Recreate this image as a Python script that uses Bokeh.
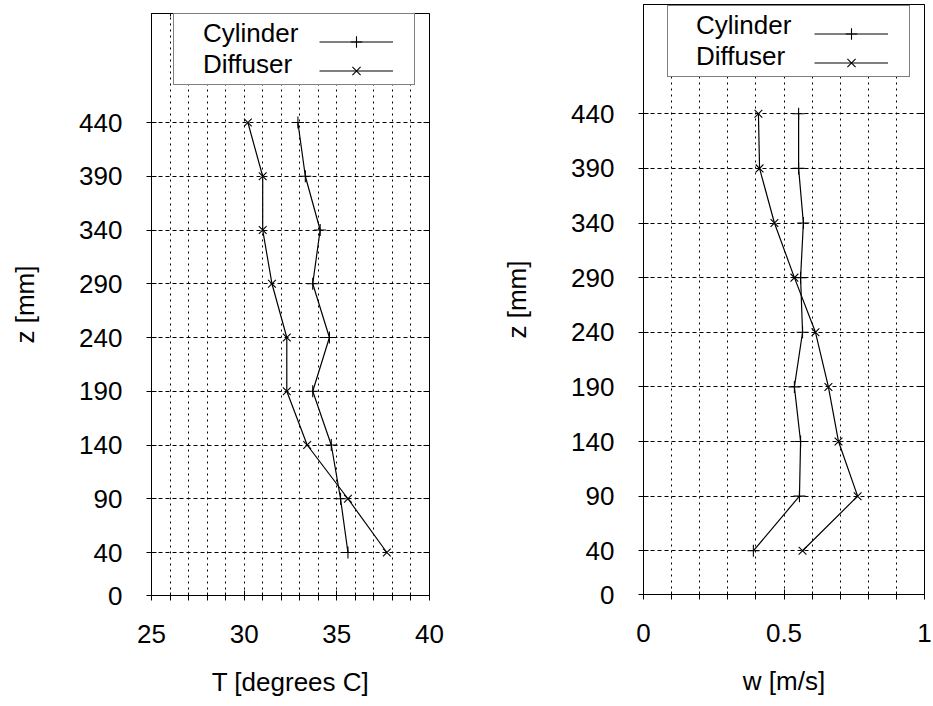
from bokeh.plotting import figure
from bokeh.layouts import row, column
from bokeh.models import FixedTicker, LinearAxis, Legend, LegendItem, Range1d
from bokeh.embed import file_html
from bokeh.resources import INLINE

# ---- data ----
z = [40, 90, 140, 190, 240, 290, 340, 390, 440]
T_cylinder = [35.6, 35.2, 34.7, 33.7, 34.6, 33.7, 34.1, 33.3, 32.9]
T_diffuser = [37.7, 35.6, 33.4, 32.3, 32.3, 31.5, 31.0, 31.0, 30.2]
w_cylinder = [0.391, 0.555, 0.559, 0.537, 0.566, 0.559, 0.569, 0.552, 0.552]
w_diffuser = [0.566, 0.762, 0.694, 0.658, 0.612, 0.537, 0.466, 0.413, 0.409]

series_names = ["Cylinder", "Diffuser"]
z_ticks = [0, 40, 90, 140, 190, 240, 290, 340, 390, 440]
z_grid = [40, 90, 140, 190, 240, 290, 340, 390, 440]
T_ticks = [25, 30, 35, 40]
T_minor = [26, 27, 28, 29, 31, 32, 33, 34, 36, 37, 38, 39]
T_grid = [26, 27, 28, 29, 30, 31, 32, 33, 34, 35, 36, 37, 38, 39]
w_ticks = [0, 0.5, 1]
w_tick_labels = {0: "0", 0.5: "0.5", 1: "1"}
w_minor = [0.1, 0.2, 0.3, 0.4, 0.6, 0.7, 0.8, 0.9]
w_grid = [0.1, 0.2, 0.3, 0.4, 0.5, 0.6, 0.7, 0.8, 0.9]

FONT = "Liberation Sans"
FS = "26px"


def panel(x_cyl, x_dif, x_start, x_end, x_ticks, x_minor, x_grid, x_label,
          y_end, width, bl, br, bt, bb, box_x, box_y, box_w, text_off, glyph_off,
          overrides=None):
    p = figure(width=width, height=706,
               x_range=Range1d(x_start, x_end), y_range=Range1d(0, y_end),
               output_backend="svg", toolbar_location=None,
               min_border_left=bl, min_border_right=br,
               min_border_top=bt, min_border_bottom=bb,
               background_fill_color="white", border_fill_color="white")
    p.outline_line_color = "black"
    p.outline_line_width = 1

    p.xaxis.ticker = FixedTicker(ticks=x_ticks, minor_ticks=x_minor)
    p.yaxis.ticker = FixedTicker(ticks=z_ticks, minor_ticks=[])
    if overrides:
        p.xaxis.major_label_overrides = overrides
    p.xaxis.axis_label = x_label
    p.yaxis.axis_label = "z [mm]"
    for ax in (p.xaxis[0], p.yaxis[0]):
        ax.axis_line_color = "black"
        ax.major_tick_line_color = "black"
        ax.minor_tick_line_color = "black"
        ax.major_tick_in = 5
        ax.major_tick_out = 5
        ax.minor_tick_in = 3
        ax.minor_tick_out = 5
        ax.major_label_text_font = FONT
        ax.major_label_text_font_size = FS
        ax.major_label_text_color = "black"
        ax.axis_label_text_font = FONT
        ax.axis_label_text_font_size = FS
        ax.axis_label_text_font_style = "normal"
        ax.axis_label_text_color = "black"
    p.xaxis.major_label_standoff = 24
    p.xaxis.axis_label_standoff = 21
    p.yaxis.major_label_standoff = 24
    p.yaxis.axis_label_standoff = 36

    top = LinearAxis(ticker=FixedTicker(ticks=x_ticks, minor_ticks=x_minor),
                     major_label_text_font_size="1px",
                     major_label_text_color=None, major_label_standoff=0,
                     major_tick_in=6, major_tick_out=0,
                     minor_tick_in=3, minor_tick_out=0,
                     axis_line_color=None)
    p.add_layout(top, "above")
    right = LinearAxis(ticker=FixedTicker(ticks=z_ticks, minor_ticks=[]),
                       major_label_text_font_size="1px",
                       major_label_text_color=None, major_label_standoff=0,
                       major_tick_in=6, major_tick_out=0,
                       minor_tick_in=0, minor_tick_out=0,
                       axis_line_color=None)
    p.add_layout(right, "right")

    p.xgrid.ticker = FixedTicker(ticks=x_grid)
    p.xgrid.grid_line_color = "black"
    p.xgrid.grid_line_dash = "2 4"
    p.xgrid.grid_line_width = 1
    p.ygrid.ticker = FixedTicker(ticks=z_grid)
    p.ygrid.grid_line_color = "black"
    p.ygrid.grid_line_dash = "4 3"
    p.ygrid.grid_line_width = 1

    l1 = p.line(x_cyl, z, line_color="black", line_width=1.2)
    s1 = p.scatter(x_cyl, z, marker="cross", size=12, line_color="black", line_width=1.1)
    l2 = p.line(x_dif, z, line_color="black", line_width=1.2)
    s2 = p.scatter(x_dif, z, marker="x", size=11, line_color="black", line_width=1.1)

    pad = 4
    # key box with the texts (gnuplot style: text on the left)
    key_text = Legend(items=[LegendItem(label=series_names[0], renderers=[l1, s1]),
                             LegendItem(label=series_names[1], renderers=[l2, s2])],
                      location=(box_x, box_y),
                      label_text_font=FONT, label_text_font_size=FS,
                      label_text_color="black",
                      border_line_color="black", border_line_width=1,
                      background_fill_color="white", background_fill_alpha=1.0,
                      padding=pad, spacing=0, margin=0,
                      glyph_width=0, glyph_height=29,
                      label_standoff=text_off, label_height=29,
                      label_width=box_w - 2 * pad - text_off)
    p.add_layout(key_text)
    # line samples on the right side of the key box
    key_glyph = Legend(items=[LegendItem(label=series_names[0], renderers=[l1, s1]),
                              LegendItem(label=series_names[1], renderers=[l2, s2])],
                       location=(box_x + glyph_off, box_y),
                       label_text_font=FONT, label_text_font_size="1px",
                       label_text_color=None,
                       border_line_color=None, background_fill_color=None,
                       padding=pad, spacing=0, margin=0,
                       glyph_width=74, glyph_height=29,
                       label_standoff=0, label_height=29, label_width=0)
    p.add_layout(key_glyph)
    return p


p1 = panel(T_cylinder, T_diffuser, 25, 40, T_ticks, T_minor, T_grid,
           "T [degrees C]", 541.4, 470, 151, 41, 13, 111,
           22, 510, 240, 25, 146)
p2 = panel(w_cylinder, w_diffuser, 0, 1, w_ticks, w_minor, w_grid,
           "w [m/s]", 540.0, 463, 173, 9, 4, 112,
           24, 517, 241, 24, 147, overrides=w_tick_labels)

layout = row(column(p1), column(p2))
open("out.html", "w").write(file_html(layout, INLINE))
